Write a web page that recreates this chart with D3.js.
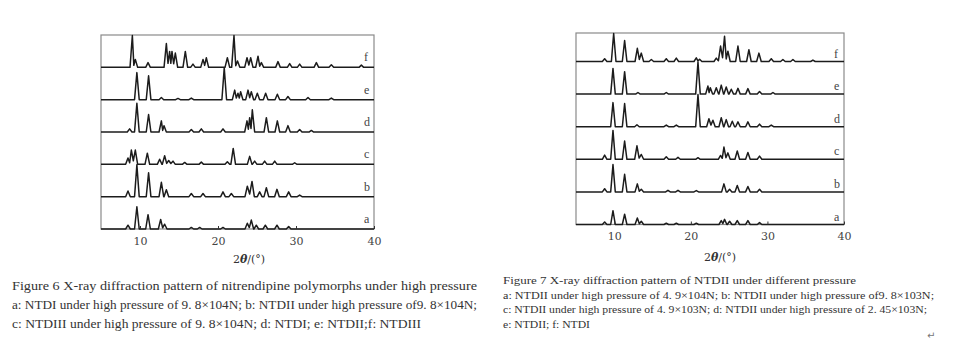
<!DOCTYPE html>
<html>
<head>
<meta charset="utf-8">
<script src="https://cdn.jsdelivr.net/npm/d3@7"></script>
<style>
  body { margin: 0; background: #fff; }
  svg { display: block; }
</style>
</head>
<body>
<div id="chart-area"></div>
<script>
// tick values on 2theta axis
var tickVals = [10, 20, 30, 40];
var stripLabels = ["a", "b", "c", "d", "e", "f"];

// Figure 6 peaks, [2theta, relative height]
var fig6_a = [[8.46,0.12],[9.6,0.7],[11.03,0.45],[12.65,0.3],[13.16,0.15],[16.58,0.05],[17.65,0.05],[20.64,0.05],[23.76,0.18],[24.27,0.28],[24.91,0.12],[26.07,0.12],[27.56,0.12],[29.06,0.08]];
var fig6_b = [[8.46,0.18],[9.6,1.0],[11.1,0.75],[12.74,0.45],[13.38,0.22],[16.58,0.1],[18.08,0.1],[20.64,0.15],[21.71,0.1],[23.76,0.33],[24.36,0.48],[25.34,0.15],[26.2,0.28],[27.56,0.23],[29.06,0.15],[30.47,0.05]];
var fig6_c = [[8.46,0.2],[8.89,0.45],[9.4,0.45],[10.94,0.35],[12.52,0.16],[13.16,0.27],[13.68,0.12],[14.23,0.1],[15.73,0.06],[17.86,0.07],[21.2,0.08],[21.95,0.5],[24.06,0.25],[24.7,0.1],[25.98,0.1],[27.27,0.1],[29.83,0.05]];
var fig6_d = [[8.67,0.1],[9.6,0.9],[11.1,0.55],[12.74,0.35],[13.08,0.2],[16.58,0.08],[17.86,0.1],[20.64,0.1],[23.72,0.35],[24.06,0.45],[24.4,0.7],[26.2,0.45],[27.61,0.35],[28.97,0.2],[30.47,0.08],[31.97,0.05]];
var fig6_e = [[9.6,0.85],[11.1,0.75],[12.74,0.07],[14.87,0.04],[16.58,0.05],[20.8,1.0],[22.14,0.3],[22.56,0.2],[22.9,0.25],[23.85,0.3],[24.27,0.25],[25.04,0.2],[26.11,0.2],[27.61,0.17],[28.97,0.1],[31.54,0.07],[34.53,0.05]];
var fig6_f = [[9.02,1.0],[9.4,0.25],[11.03,0.15],[13.38,0.75],[13.8,0.5],[14.1,0.5],[14.53,0.45],[15.81,0.5],[16.79,0.1],[18.08,0.25],[18.5,0.3],[21.2,0.3],[22.05,1.0],[22.5,0.2],[23.72,0.3],[24.19,0.3],[25.13,0.35],[25.56,0.15],[27.69,0.18],[29.19,0.12],[30.47,0.1],[32.61,0.15],[34.53,0.08],[38.38,0.07]];

// Figure 7 peaks
var fig7_a = [[8.74,0.08],[9.83,0.43],[11.35,0.32],[13.01,0.2],[13.53,0.1],[16.79,0.04],[18.1,0.04],[20.71,0.04],[23.97,0.12],[24.4,0.16],[25.06,0.1],[26.06,0.12],[27.45,0.12],[28.97,0.06]];
var fig7_b = [[8.74,0.1],[9.83,0.85],[11.35,0.55],[13.01,0.25],[13.53,0.08],[17.01,0.05],[18.32,0.05],[20.71,0.04],[24.32,0.25],[25.06,0.08],[26.06,0.2],[27.45,0.17],[28.97,0.08]];
var fig7_c = [[8.74,0.13],[9.83,0.9],[11.35,0.57],[12.96,0.42],[13.53,0.15],[16.79,0.08],[18.32,0.06],[20.93,0.05],[23.88,0.12],[24.32,0.38],[24.84,0.2],[26.06,0.26],[27.45,0.21],[28.97,0.1]];
var fig7_d = [[9.83,0.75],[11.35,0.72],[12.96,0.06],[16.79,0.05],[18.1,0.05],[20.93,1.0],[22.36,0.25],[22.88,0.2],[23.97,0.28],[24.62,0.22],[25.41,0.17],[26.15,0.15],[27.45,0.15],[28.97,0.08],[30.5,0.05]];
var fig7_e = [[9.83,0.8],[11.35,0.7],[13.09,0.05],[16.79,0.05],[20.93,1.0],[22.23,0.25],[22.54,0.2],[23.32,0.2],[23.97,0.28],[24.62,0.22],[25.28,0.15],[26.15,0.18],[27.45,0.17],[28.97,0.08],[30.72,0.05]];
var fig7_f = [[8.74,0.1],[9.92,1.0],[11.35,0.75],[13.01,0.47],[13.53,0.3],[14.84,0.07],[16.79,0.1],[18.1,0.12],[20.71,0.13],[21.14,0.08],[23.32,0.12],[23.88,0.55],[24.4,0.9],[24.84,0.37],[26.15,0.55],[27.58,0.42],[28.89,0.3],[30.5,0.1],[32.02,0.07],[33.33,0.07],[35.94,0.05]];

// captions
var caption6 = [
  "Figure 6 X-ray diffraction pattern of nitrendipine polymorphs under high pressure",
  "a: NTDI under high pressure of 9. 8×104N; b: NTDII under high pressure of9. 8×104N;",
  "c: NTDIII under high pressure of  9. 8×104N; d: NTDI; e: NTDII;f: NTDIII"
];
var caption7 = [
  "Figure 7 X-ray diffraction pattern of NTDII under different pressure",
  "a: NTDII under high pressure of 4. 9×104N; b: NTDII under high pressure of9. 8×103N;",
  "c: NTDII under high pressure of 4. 9×103N; d: NTDII under high pressure of 2. 45×103N;",
  "e: NTDII; f: NTDI"
];

var svg = d3.select("#chart-area")
  .append("svg")
    .attr("width", 967)
    .attr("height", 363);

svg.append("rect").attr("width", 967).attr("height", 363).attr("fill", "#fff");

var panels = [
  { traces: [fig6_a, fig6_b, fig6_c, fig6_d, fig6_e, fig6_f], x0: 101, x1: 374, top: 35, bottom: 229, stripH: 32.33,
    labelX: 364, labelDy: -6, titleX: 249, titleY: 263,
    caption: caption6, capX: 12, capY: 290, capStep: 19, capSize: 12, capW: [465, 465, 409] },
  { traces: [fig7_a, fig7_b, fig7_c, fig7_d, fig7_e, fig7_f], x0: 576, x1: 844, top: 33, bottom: 224.5, stripH: 32.6,
    labelX: 834, labelDy: -4, titleX: 720, titleY: 261,
    caption: caption7, capX: 503, capY: 284, capStep: 14.5, capSize: 10, capW: [353, 431, 424, 87] }
];

// turns a peak list into a spiky trace, neighbouring peaks share a valley
function tracePoints(peaks) {
  var w = 0.3;
  var pts = [[5, 0]];
  peaks.forEach(function(p, i) {
    var prev = peaks[i - 1], next = peaks[i + 1];
    if (!prev || p[0] - w >= prev[0] + w) pts.push([p[0] - w, 0]);
    pts.push([p[0], p[1]]);
    if (next && next[0] - w < p[0] + w) {
      pts.push([(p[0] + next[0]) / 2, 0.25 * Math.min(p[1], next[1])]);
    } else {
      pts.push([p[0] + w, 0]);
    }
  });
  pts.push([40, 0]);
  return pts;
}

panels.forEach(function(pn) {
  var g = svg.append("g");

  var x = d3.scaleLinear()
    .domain([5, 40])
    .range([pn.x0, pn.x1]);

  // frame
  g.append("rect")
    .attr("x", pn.x0)
    .attr("y", pn.top)
    .attr("width", pn.x1 - pn.x0)
    .attr("height", pn.bottom - pn.top)
    .attr("fill", "none")
    .attr("stroke", "#8a8a8a")
    .attr("stroke-width", 1.2);

  pn.traces.forEach(function(peaks, i) {
    var base = pn.bottom - i * pn.stripH;
    var avail = base - Math.max(base - pn.stripH, pn.top) - 0.5;
    var y = d3.scaleLinear().domain([0, 1]).range([base, base - avail]);

    var line = d3.line()
      .x(function(d) { return x(d[0]); })
      .y(function(d) { return y(d[1]); });

    g.append("path")
      .datum(tracePoints(peaks))
      .attr("d", line)
      .attr("fill", "none")
      .attr("stroke", "#1c1c1c")
      .attr("stroke-width", 1.5)
      .attr("stroke-linejoin", "round");

    g.append("text")
      .attr("x", pn.labelX)
      .attr("y", base + pn.labelDy)
      .attr("font-family", "Liberation Serif")
      .attr("font-size", "12px")
      .attr("fill", "#444")
      .text(stripLabels[i]);
  });

  // x axis, ticks pointing inwards
  var xAxisCall = d3.axisBottom(x)
    .tickValues(tickVals)
    .tickSizeInner(-3)
    .tickSizeOuter(0)
    .tickPadding(8);
  var ax = g.append("g")
    .attr("transform", "translate(0," + pn.bottom + ")")
    .call(xAxisCall);
  ax.select(".domain").remove();
  ax.selectAll("line").attr("stroke", "#333");
  ax.selectAll("text")
    .attr("font-family", "DejaVu Serif")
    .attr("font-size", "11px")
    .attr("fill", "#444");

  // x label
  var t = g.append("text")
    .attr("x", pn.titleX)
    .attr("y", pn.titleY)
    .attr("text-anchor", "middle")
    .attr("font-family", "DejaVu Serif")
    .attr("font-size", "11px")
    .attr("fill", "#333");
  t.append("tspan").text("2");
  t.append("tspan").attr("font-style", "italic").attr("font-weight", "bold").text("θ");
  t.append("tspan").text("/(°)");

  // caption
  pn.caption.forEach(function(s, i) {
    g.append("text")
      .attr("x", pn.capX)
      .attr("y", pn.capY + i * pn.capStep)
      .attr("font-family", "Liberation Serif")
      .attr("font-size", pn.capSize + "px")
      .attr("fill", "#333")
      .attr("textLength", pn.capW[i])
      .attr("lengthAdjust", "spacingAndGlyphs")
      .text(s);
  });
});

// paragraph mark
svg.append("text")
  .attr("x", 927)
  .attr("y", 339)
  .attr("font-family", "DejaVu Sans")
  .attr("font-size", "10px")
  .attr("fill", "#777")
  .text("↵");
</script>
</body>
</html>
